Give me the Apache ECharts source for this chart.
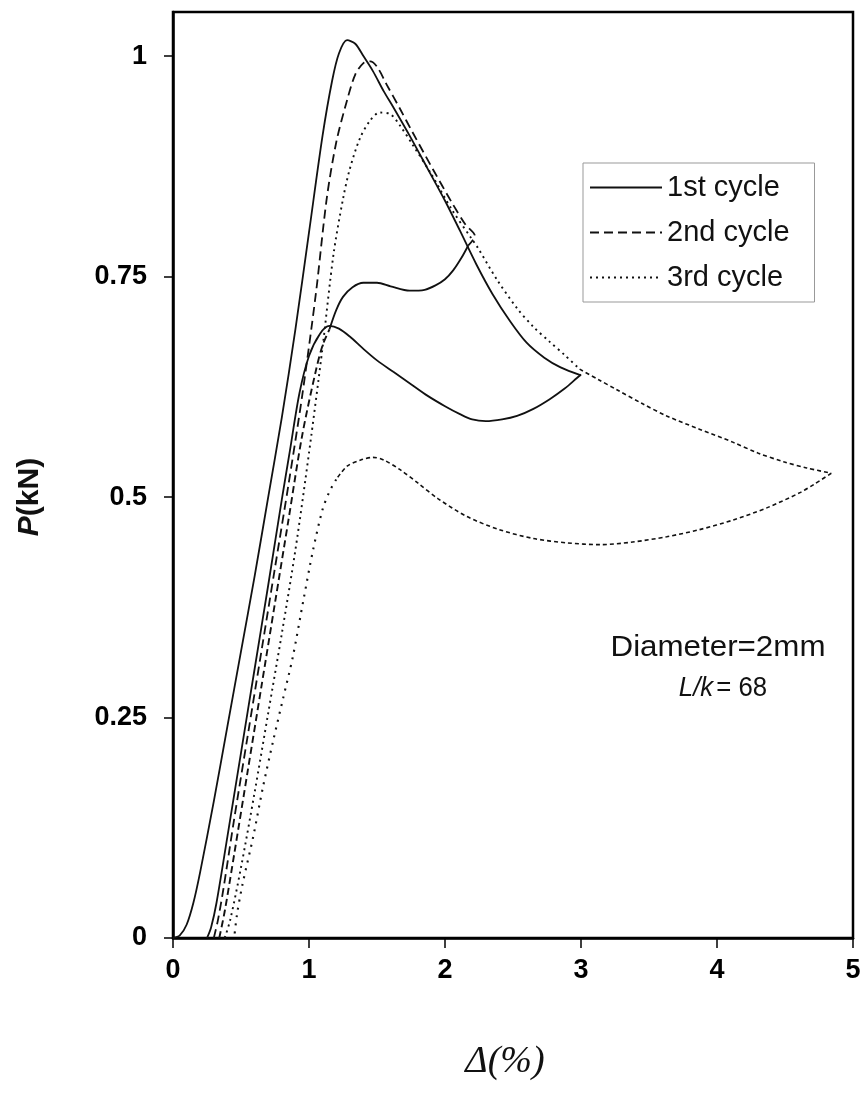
<!DOCTYPE html>
<html>
<head>
<meta charset="utf-8">
<script src="https://cdn.jsdelivr.net/npm/echarts@6/dist/echarts.min.js"></script>
<style>html,body{margin:0;padding:0;background:#fff}#c{width:866px;height:1099px}</style>
</head>
<body>
<div id="c"></div>
<script>
// Tick labels
const xTicks = [0, 1, 2, 3, 4, 5];
const yTicks = [0, 0.25, 0.5, 0.75, 1];
const legendNames = ['1st cycle', '2nd cycle', '3rd cycle'];

// 1st cycle (solid)
const c1Envelope = [[0,0],[0.05,0.003],[0.1,0.015],[0.15,0.04],[0.2,0.075],[0.3,0.155],[0.4,0.24],[0.5,0.325],[0.6,0.41],[0.7,0.5],[0.8,0.59],[0.9,0.69],[1.0,0.8],[1.1,0.91],[1.17,0.972],[1.22,1.003],[1.28,1.018],[1.34,1.014],[1.4,1.0],[1.47,0.983],[1.55,0.96],[1.62,0.942],[1.75,0.907],[1.87,0.873],[2.0,0.836],[2.11,0.802],[2.23,0.764],[2.35,0.73],[2.48,0.699],[2.6,0.675],[2.73,0.658],[2.85,0.647],[3.0,0.638]];
const c1Reload = [[0.25,0],[0.28,0.012],[0.32,0.04],[0.4,0.115],[0.5,0.21],[0.6,0.305],[0.7,0.4],[0.8,0.497],[0.86,0.553],[0.93,0.618],[1.0,0.66],[1.08,0.685],[1.15,0.694],[1.22,0.691],[1.3,0.682],[1.4,0.668],[1.5,0.655],[1.62,0.642],[1.75,0.628],[1.87,0.615],[2.0,0.603],[2.11,0.594],[2.2,0.588],[2.3,0.586],[2.42,0.588],[2.53,0.592],[2.65,0.6],[2.77,0.611],[2.88,0.623],[2.97,0.635],[3.0,0.639]];
const c1Plateau = [[1.15,0.69],[1.2,0.712],[1.25,0.727],[1.32,0.738],[1.4,0.743],[1.5,0.743],[1.6,0.739],[1.74,0.734],[1.85,0.735],[1.93,0.74],[2.0,0.747],[2.06,0.757],[2.12,0.771],[2.17,0.785]];

// 2nd cycle (dashed)
const c2Main = [[0.3,0],[0.33,0.02],[0.37,0.055],[0.45,0.135],[0.55,0.23],[0.65,0.325],[0.75,0.42],[0.85,0.515],[0.95,0.615],[1.05,0.73],[1.13,0.838],[1.2,0.902],[1.28,0.95],[1.34,0.979],[1.4,0.992],[1.45,0.994],[1.5,0.988],[1.57,0.968],[1.67,0.94],[1.76,0.914],[1.91,0.872],[2.05,0.834],[2.15,0.809],[2.22,0.796],[2.17,0.785]];
const c2Reload = [[0.34,0],[0.38,0.03],[0.45,0.095],[0.55,0.19],[0.65,0.285],[0.75,0.38],[0.85,0.475],[0.95,0.57],[1.05,0.643],[1.1,0.672],[1.15,0.69]];

// 3rd cycle (dotted)
const c3Main = [[0.38,0],[0.42,0.02],[0.5,0.08],[0.6,0.165],[0.7,0.255],[0.8,0.345],[0.9,0.44],[1.0,0.55],[1.1,0.67],[1.18,0.775],[1.25,0.838],[1.3,0.872],[1.375,0.907],[1.45,0.927],[1.52,0.936],[1.6,0.934],[1.67,0.921],[1.76,0.9],[1.9,0.866],[2.05,0.826],[2.2,0.792],[2.24,0.783],[2.38,0.747],[2.53,0.714],[2.65,0.693],[2.77,0.676],[2.88,0.661],[2.99,0.645]];
const c3Out = [[2.99,0.645],[3.13,0.633],[3.26,0.622],[3.45,0.606],[3.63,0.592],[3.87,0.577],[4.12,0.562],[4.3,0.55],[4.49,0.54],[4.66,0.533],[4.84,0.527]];
const c3Back = [[4.84,0.527],[4.72,0.515],[4.61,0.505],[4.37,0.488],[4.12,0.474],[3.87,0.463],[3.63,0.455],[3.38,0.449],[3.14,0.446],[2.9,0.448],[2.65,0.453],[2.4,0.463],[2.16,0.478],[1.95,0.498],[1.8,0.516],[1.67,0.531],[1.55,0.542],[1.47,0.545],[1.38,0.542],[1.28,0.535],[1.2,0.52]];
const c3Tail = [[1.2,0.52],[1.15,0.506],[1.1,0.486],[1.03,0.44],[0.96,0.384],[0.88,0.318],[0.81,0.272],[0.74,0.226],[0.66,0.17],[0.59,0.115],[0.51,0.06],[0.47,0.026],[0.45,0]];

const chart = echarts.init(document.getElementById('c'), null, {renderer: 'canvas'});
const FONT = 'Liberation Sans, Arial, sans-serif';
function line(name, data, type, width) {
  return {
    name: name, type: 'line', data: data, symbol: 'none', smooth: 0.3,
    color: '#111',
    lineStyle: {color: '#111', width: width || 1.8, type: type},
    z: 3, silent: true
  };
}
chart.setOption({
  animation: false,
  backgroundColor: '#fff',
  grid: {left: 173, right: 13, top: 12, bottom: 161, show: true, borderColor: '#000', borderWidth: 2.5},
  xAxis: {
    type: 'value', min: 0, max: 5, interval: 1,
    axisLine: {lineStyle: {color: '#000', width: 2.5}},
    axisTick: {show: true, length: 10, lineStyle: {color: '#000', width: 1.5}, customValues: xTicks},
    axisLabel: {customValues: xTicks, margin: 19, color: '#000', fontFamily: FONT, fontWeight: 'bold', fontSize: 27},
    splitLine: {show: false}
  },
  yAxis: {
    type: 'value', min: 0, max: 1.05,
    axisLine: {lineStyle: {color: '#000', width: 2.5}},
    axisTick: {show: true, length: 9, lineStyle: {color: '#000', width: 1.5}, customValues: yTicks},
    axisLabel: {customValues: yTicks, margin: 26, color: '#000', fontFamily: FONT, fontWeight: 'bold', fontSize: 27,
      formatter: v => String(v)},
    splitLine: {show: false}
  },
  legend: {
    data: legendNames, orient: 'vertical', left: 583, top: 163,
    padding: [10, 25, 10, 6], itemWidth: 72, itemHeight: 14, itemGap: 16,
    borderColor: '#999', borderWidth: 1, backgroundColor: '#fff',
    itemStyle: {color: 'rgba(0,0,0,0)', borderColor: 'rgba(0,0,0,0)', borderWidth: 0},
    textStyle: {fontFamily: FONT, fontSize: 29, color: '#111', lineHeight: 29},
    selectedMode: false
  },
  series: [
    line('1st cycle', c1Envelope, 'solid', 1.8),
    line('1st cycle', c1Reload, 'solid', 1.8),
    line('1st cycle', c1Plateau, 'solid', 1.8),
    line('2nd cycle', c2Main, [9, 5], 1.8),
    line('2nd cycle', c2Reload, [7, 4], 1.9),
    line('3rd cycle', c3Main, [2, 4], 1.9),
    line('3rd cycle, cont.', c3Out, [4, 3], 1.6),
    line('3rd cycle, back', c3Back, [4, 3], 1.6),
    line('3rd cycle, tail', c3Tail, [2, 6], 2.1)
  ],
  graphic: [
    {type: 'text', x: 505, y: 1062, style: {text: 'Δ(%)', fontFamily: 'Liberation Serif, Times New Roman, serif', fontStyle: 'italic', fontSize: 38, fill: '#111', align: 'center', verticalAlign: 'middle'}},
    {type: 'text', x: 30, y: 497, rotation: Math.PI / 2, style: {
      text: '{i|P}{b|(kN)}', align: 'center', verticalAlign: 'middle',
      rich: {i: {fontFamily: FONT, fontStyle: 'italic', fontWeight: 'bold', fontSize: 30, fill: '#111'},
             b: {fontFamily: FONT, fontWeight: 'bold', fontSize: 30, fill: '#111'}}}},
    {type: 'text', x: 718, y: 648, scaleX: 1.08, style: {text: 'Diameter=2mm', fontFamily: FONT, fontSize: 29, fill: '#111', align: 'center', verticalAlign: 'middle'}},
    {type: 'text', x: 723, y: 688, scaleX: 0.92, style: {
      text: '{i|L/k} {n|= 68}', align: 'center', verticalAlign: 'middle',
      rich: {i: {fontFamily: FONT, fontStyle: 'italic', fontSize: 28, fill: '#111'},
             n: {fontFamily: FONT, fontSize: 28, fill: '#111'}}}}
  ]
});
</script>
</body>
</html>
